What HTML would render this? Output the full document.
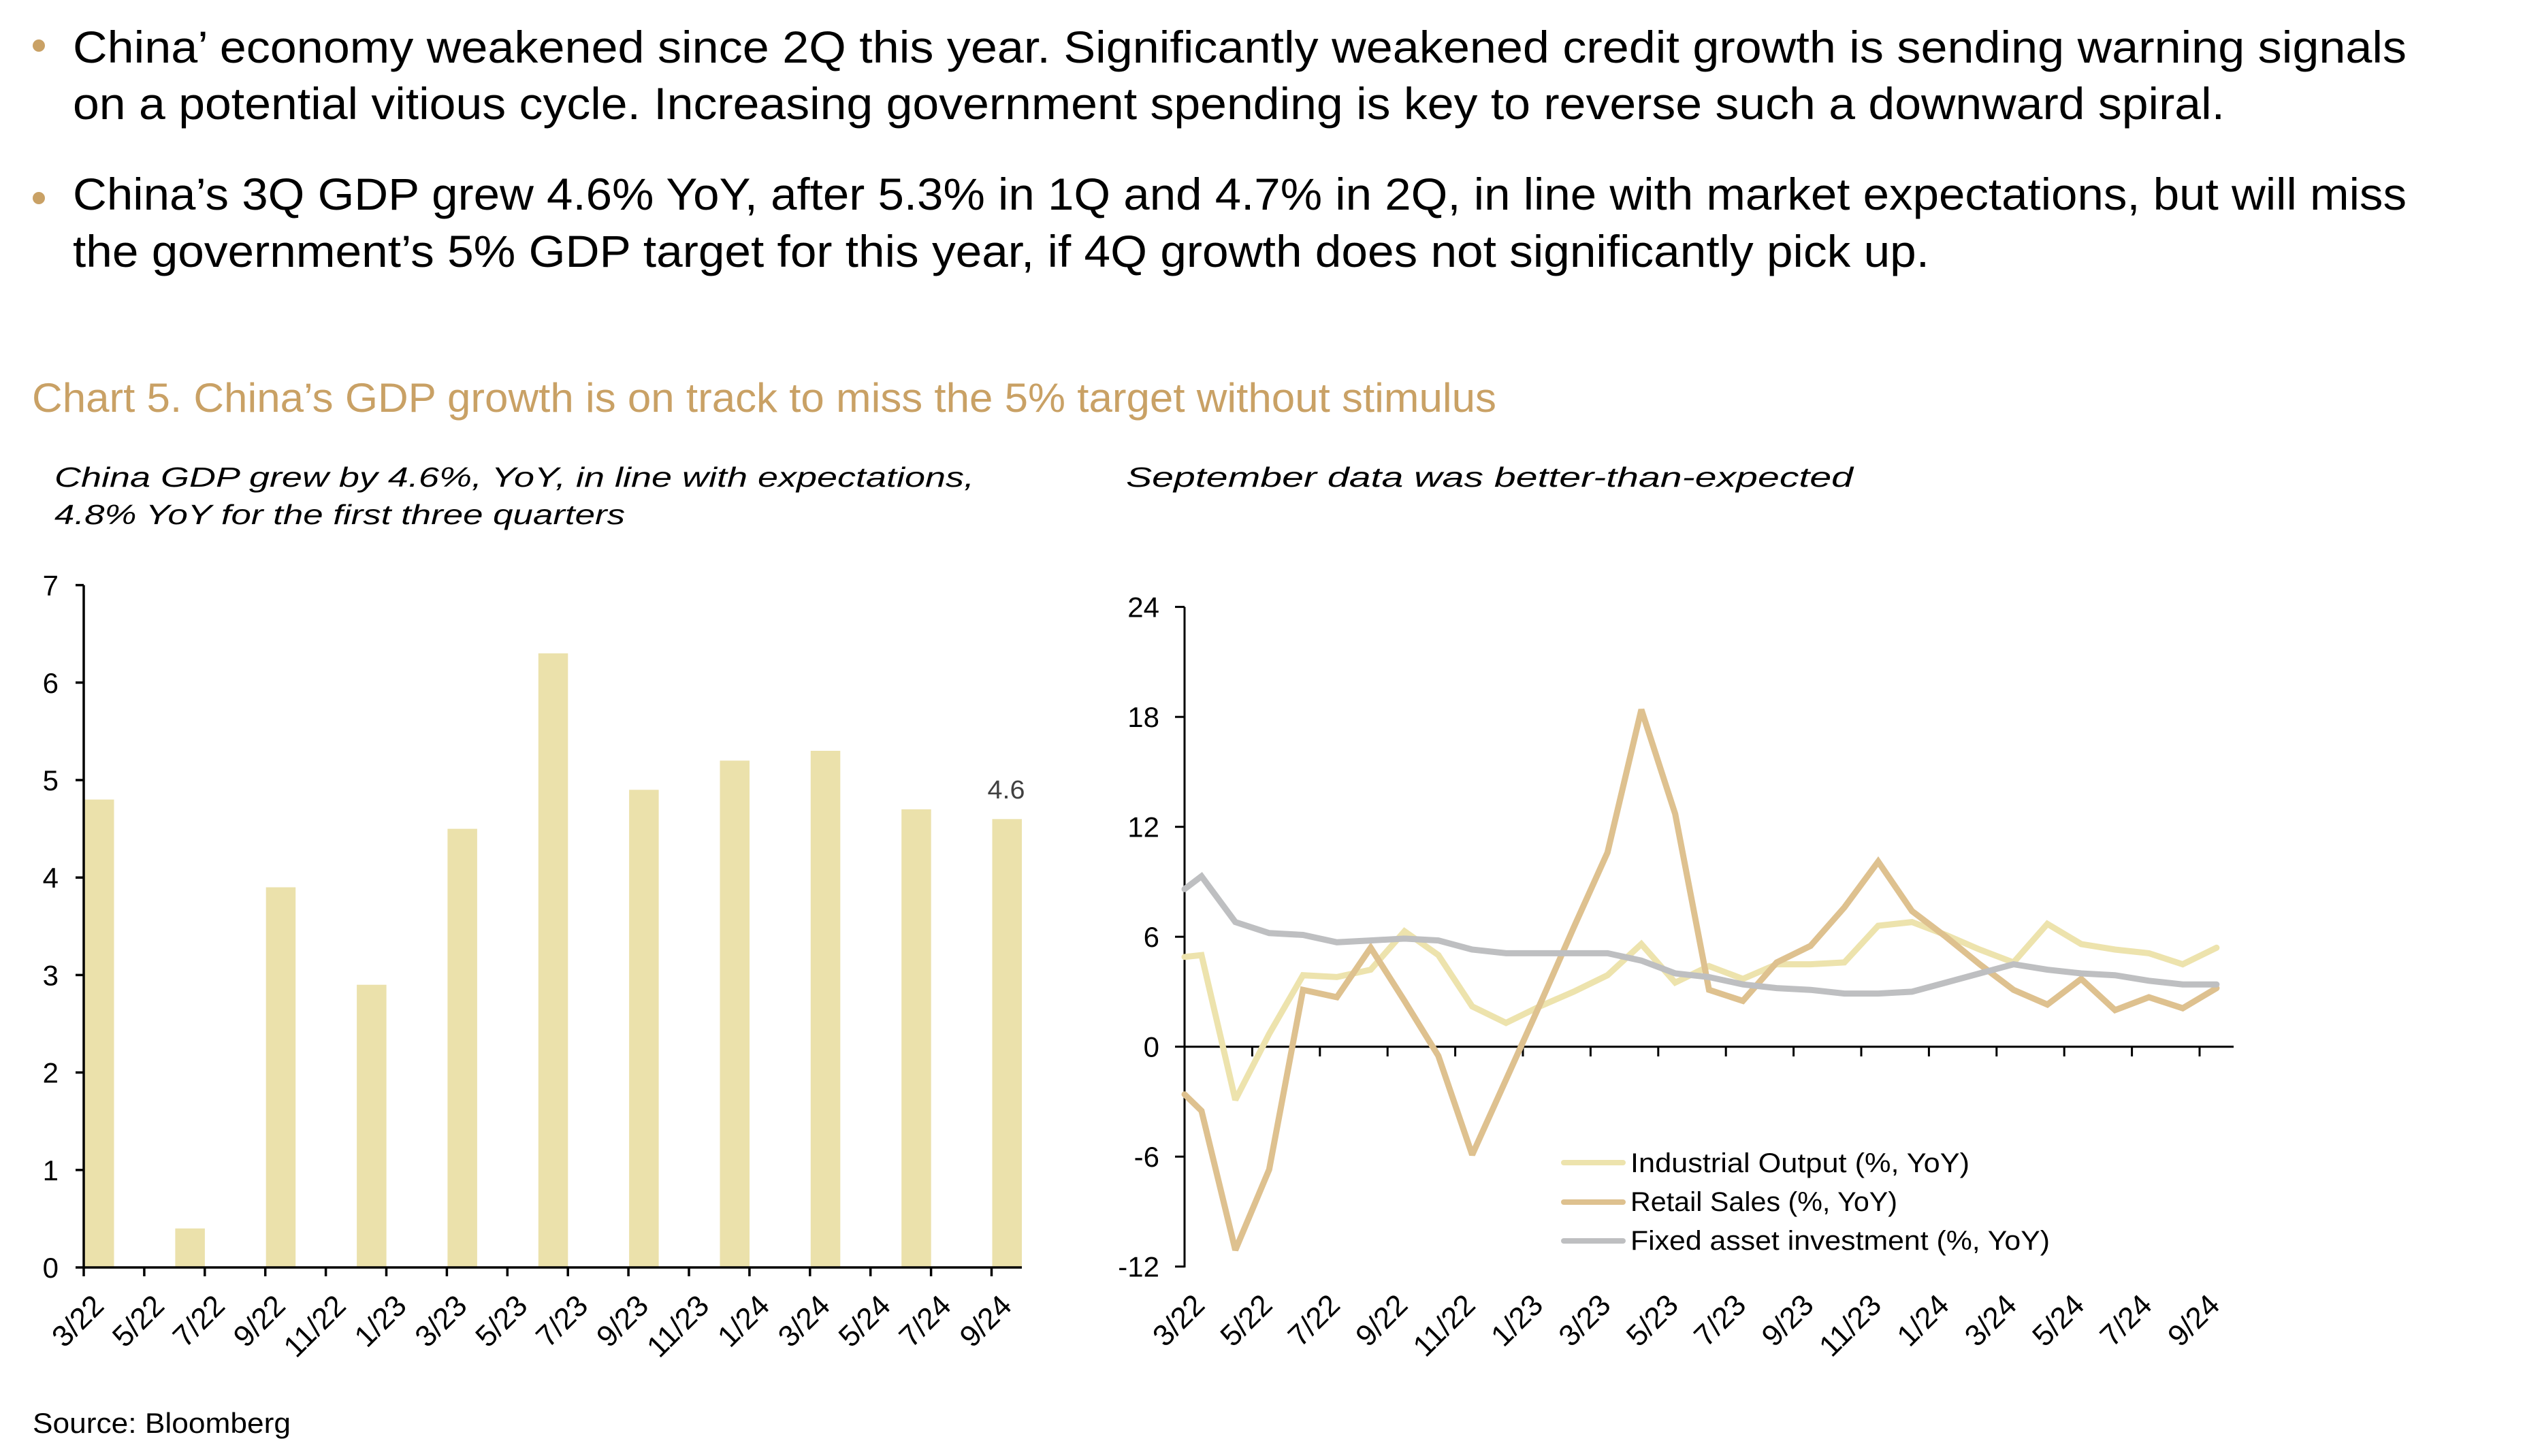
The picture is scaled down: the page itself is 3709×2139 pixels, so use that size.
<!DOCTYPE html>
<html>
<head>
<meta charset="utf-8">
<style>
  html,body{margin:0;padding:0;background:#fff;}
  svg{display:block;}
  text{font-family:"Liberation Sans","DejaVu Sans",sans-serif;}
</style>
</head>
<body>
<svg width="3709" height="2139" viewBox="0 0 3709 2139" xmlns="http://www.w3.org/2000/svg">
  <rect x="0" y="0" width="3709" height="2139" fill="#ffffff"/>

  <!-- Bullets -->
  <circle cx="57" cy="67" r="9" fill="#C9A165"/>
  <circle cx="57" cy="291" r="9" fill="#C9A165"/>
  <g font-size="66" fill="#000">
    <text x="107" y="92" textLength="3428" lengthAdjust="spacingAndGlyphs">China’ economy weakened since 2Q this year. Significantly weakened credit growth is sending warning signals</text>
    <text x="107" y="175" textLength="3161" lengthAdjust="spacingAndGlyphs">on a potential vitious cycle. Increasing government spending is key to reverse such a downward spiral.</text>
    <text x="107" y="308" textLength="3428" lengthAdjust="spacingAndGlyphs">China’s 3Q GDP grew 4.6% YoY, after 5.3% in 1Q and 4.7% in 2Q, in line with market expectations, but will miss</text>
    <text x="107" y="392" textLength="2727" lengthAdjust="spacingAndGlyphs">the government’s 5% GDP target for this year, if 4Q growth does not significantly pick up.</text>
  </g>

  <!-- Chart title -->
  <text x="47" y="605" font-size="60" fill="#C9A165" textLength="2151" lengthAdjust="spacingAndGlyphs">Chart 5. China’s GDP growth is on track to miss the 5% target without stimulus</text>

  <!-- Subtitles -->
  <g font-size="41" font-style="italic" fill="#000">
    <text x="80" y="715" textLength="1351" lengthAdjust="spacingAndGlyphs">China GDP grew by 4.6%, YoY, in line with expectations,</text>
    <text x="80" y="770" textLength="838" lengthAdjust="spacingAndGlyphs">4.8% YoY for the first three quarters</text>
    <text x="1654" y="715" textLength="1068" lengthAdjust="spacingAndGlyphs">September data was better-than-expected</text>
  </g>

  <!-- ================= LEFT BAR CHART ================= -->
  <g fill="#EBE1AB">
    <rect x="124" y="1174.6" width="43.5" height="687.4"/>
    <rect x="257.4" y="1804.7" width="43.5" height="57.3"/>
    <rect x="390.7" y="1303.5" width="43.5" height="558.5"/>
    <rect x="524.1" y="1446.7" width="43.5" height="415.3"/>
    <rect x="657.4" y="1217.6" width="43.5" height="644.4"/>
    <rect x="790.8" y="959.8" width="43.5" height="902.2"/>
    <rect x="924.1" y="1160.3" width="43.5" height="701.7"/>
    <rect x="1057.5" y="1117.4" width="43.5" height="744.6"/>
    <rect x="1190.8" y="1103.0" width="43.5" height="759.0"/>
    <rect x="1324.2" y="1189.0" width="43.5" height="673.0"/>
    <rect x="1457.5" y="1203.3" width="43.5" height="658.7"/>
  </g>
  <text x="1478" y="1173" font-size="38" fill="#404040" text-anchor="middle" textLength="55" lengthAdjust="spacingAndGlyphs">4.6</text>

  <g stroke="#000" stroke-width="3.5" fill="none">
    <line x1="123" y1="859.6" x2="123" y2="1863.7"/>
    <line x1="111" y1="1862" x2="1501" y2="1862"/>
    <line x1="111" y1="1718.8" x2="123" y2="1718.8"/>
    <line x1="111" y1="1575.6" x2="123" y2="1575.6"/>
    <line x1="111" y1="1432.4" x2="123" y2="1432.4"/>
    <line x1="111" y1="1289.2" x2="123" y2="1289.2"/>
    <line x1="111" y1="1146" x2="123" y2="1146"/>
    <line x1="111" y1="1002.8" x2="123" y2="1002.8"/>
    <line x1="111" y1="859.6" x2="123" y2="859.6"/>
    <line x1="123" y1="1862" x2="123" y2="1875"/>
    <line x1="211.9" y1="1862" x2="211.9" y2="1875"/>
    <line x1="300.8" y1="1862" x2="300.8" y2="1875"/>
    <line x1="389.7" y1="1862" x2="389.7" y2="1875"/>
    <line x1="478.6" y1="1862" x2="478.6" y2="1875"/>
    <line x1="567.5" y1="1862" x2="567.5" y2="1875"/>
    <line x1="656.4" y1="1862" x2="656.4" y2="1875"/>
    <line x1="745.3" y1="1862" x2="745.3" y2="1875"/>
    <line x1="834.2" y1="1862" x2="834.2" y2="1875"/>
    <line x1="923.1" y1="1862" x2="923.1" y2="1875"/>
    <line x1="1012" y1="1862" x2="1012" y2="1875"/>
    <line x1="1100.9" y1="1862" x2="1100.9" y2="1875"/>
    <line x1="1189.8" y1="1862" x2="1189.8" y2="1875"/>
    <line x1="1278.7" y1="1862" x2="1278.7" y2="1875"/>
    <line x1="1367.6" y1="1862" x2="1367.6" y2="1875"/>
    <line x1="1456.5" y1="1862" x2="1456.5" y2="1875"/>
  </g>

  <g font-size="42" fill="#000" text-anchor="end">
    <text x="86" y="1877">0</text>
    <text x="86" y="1733.8">1</text>
    <text x="86" y="1590.6">2</text>
    <text x="86" y="1447.4">3</text>
    <text x="86" y="1304.2">4</text>
    <text x="86" y="1161">5</text>
    <text x="86" y="1017.8">6</text>
    <text x="86" y="874.6">7</text>
  </g>

  <g font-size="44" fill="#000" text-anchor="end">
    <text transform="translate(155,1921) rotate(-45)">3/22</text>
    <text transform="translate(243.9,1921) rotate(-45)">5/22</text>
    <text transform="translate(332.8,1921) rotate(-45)">7/22</text>
    <text transform="translate(421.7,1921) rotate(-45)">9/22</text>
    <text transform="translate(510.6,1921) rotate(-45)">11/22</text>
    <text transform="translate(599.5,1921) rotate(-45)">1/23</text>
    <text transform="translate(688.4,1921) rotate(-45)">3/23</text>
    <text transform="translate(777.3,1921) rotate(-45)">5/23</text>
    <text transform="translate(866.2,1921) rotate(-45)">7/23</text>
    <text transform="translate(955.1,1921) rotate(-45)">9/23</text>
    <text transform="translate(1044,1921) rotate(-45)">11/23</text>
    <text transform="translate(1132.9,1921) rotate(-45)">1/24</text>
    <text transform="translate(1221.8,1921) rotate(-45)">3/24</text>
    <text transform="translate(1310.7,1921) rotate(-45)">5/24</text>
    <text transform="translate(1399.6,1921) rotate(-45)">7/24</text>
    <text transform="translate(1488.5,1921) rotate(-45)">9/24</text>
  </g>

  <!-- ================= RIGHT LINE CHART ================= -->
  <g stroke="#000" stroke-width="3" fill="none">
    <line x1="1740" y1="891.6" x2="1740" y2="1862"/>
    <line x1="1726" y1="891.6" x2="1740" y2="891.6"/>
    <line x1="1726" y1="1053.2" x2="1740" y2="1053.2"/>
    <line x1="1726" y1="1214.7" x2="1740" y2="1214.7"/>
    <line x1="1726" y1="1376.2" x2="1740" y2="1376.2"/>
    <line x1="1726" y1="1537.7" x2="1740" y2="1537.7"/>
    <line x1="1726" y1="1699.2" x2="1740" y2="1699.2"/>
    <line x1="1726" y1="1860.7" x2="1740" y2="1860.7"/>
    <line x1="1740" y1="1537.7" x2="3281" y2="1537.7"/>
    <line x1="1839.4" y1="1537.7" x2="1839.4" y2="1552"/>
    <line x1="1938.8" y1="1537.7" x2="1938.8" y2="1552"/>
    <line x1="2038.2" y1="1537.7" x2="2038.2" y2="1552"/>
    <line x1="2137.6" y1="1537.7" x2="2137.6" y2="1552"/>
    <line x1="2237" y1="1537.7" x2="2237" y2="1552"/>
    <line x1="2336.4" y1="1537.7" x2="2336.4" y2="1552"/>
    <line x1="2435.8" y1="1537.7" x2="2435.8" y2="1552"/>
    <line x1="2535.2" y1="1537.7" x2="2535.2" y2="1552"/>
    <line x1="2634.6" y1="1537.7" x2="2634.6" y2="1552"/>
    <line x1="2734" y1="1537.7" x2="2734" y2="1552"/>
    <line x1="2833.4" y1="1537.7" x2="2833.4" y2="1552"/>
    <line x1="2932.8" y1="1537.7" x2="2932.8" y2="1552"/>
    <line x1="3032.2" y1="1537.7" x2="3032.2" y2="1552"/>
    <line x1="3131.6" y1="1537.7" x2="3131.6" y2="1552"/>
    <line x1="3231" y1="1537.7" x2="3231" y2="1552"/>
  </g>

  <g font-size="42" fill="#000" text-anchor="end">
    <text x="1703" y="906.6">24</text>
    <text x="1703" y="1068.2">18</text>
    <text x="1703" y="1229.7">12</text>
    <text x="1703" y="1391.2">6</text>
    <text x="1703" y="1552.7">0</text>
    <text x="1703" y="1714.2">-6</text>
    <text x="1703" y="1875.7">-12</text>
  </g>

  <g font-size="44" fill="#000" text-anchor="end">
    <text transform="translate(1772,1920) rotate(-45)">3/22</text>
    <text transform="translate(1871.4,1920) rotate(-45)">5/22</text>
    <text transform="translate(1970.8,1920) rotate(-45)">7/22</text>
    <text transform="translate(2070.2,1920) rotate(-45)">9/22</text>
    <text transform="translate(2169.6,1920) rotate(-45)">11/22</text>
    <text transform="translate(2269,1920) rotate(-45)">1/23</text>
    <text transform="translate(2368.4,1920) rotate(-45)">3/23</text>
    <text transform="translate(2467.8,1920) rotate(-45)">5/23</text>
    <text transform="translate(2567.2,1920) rotate(-45)">7/23</text>
    <text transform="translate(2666.6,1920) rotate(-45)">9/23</text>
    <text transform="translate(2766,1920) rotate(-45)">11/23</text>
    <text transform="translate(2865.4,1920) rotate(-45)">1/24</text>
    <text transform="translate(2964.8,1920) rotate(-45)">3/24</text>
    <text transform="translate(3064.2,1920) rotate(-45)">5/24</text>
    <text transform="translate(3163.6,1920) rotate(-45)">7/24</text>
    <text transform="translate(3263,1920) rotate(-45)">9/24</text>
  </g>

  <!-- Series -->
  <g fill="none" stroke-width="9" stroke-linejoin="miter" stroke-miterlimit="2" stroke-linecap="round">
    <!-- Industrial Output -->
    <polyline stroke="#EDE3AD" points="1740,1405.8 1764.9,1403.1 1814.6,1615.8 1864.3,1518.9 1914.0,1432.7 1963.7,1435.4 2013.4,1424.6 2063.1,1368.1 2112.8,1403.1 2162.5,1478.5 2212.2,1502.7 2261.9,1478.5 2311.6,1456.9 2361.3,1432.7 2411.0,1386.9 2460.7,1443.5 2510.4,1419.3 2560.1,1438.1 2609.8,1416.6 2659.5,1416.6 2709.2,1413.9 2758.9,1360.0 2808.6,1354.6 2858.3,1373.5 2908.0,1395.0 2957.7,1413.9 3007.4,1357.3 3057.1,1386.9 3106.8,1395.0 3156.5,1400.4 3206.2,1416.6 3255.9,1392.3"/>
    <!-- Retail Sales -->
    <polyline stroke="#DEC18F" points="1740,1607.7 1764.9,1631.9 1814.6,1836.5 1864.3,1718.1 1914.0,1454.2 1963.7,1465.0 2013.4,1392.3 2063.1,1470.4 2112.8,1551.2 2162.5,1696.5 2212.2,1586.2 2261.9,1475.8 2311.6,1362.7 2361.3,1252.3 2411.0,1042.4 2460.7,1195.8 2510.4,1454.2 2560.1,1470.4 2609.8,1413.9 2659.5,1389.6 2709.2,1333.1 2758.9,1265.8 2808.6,1338.5 2858.3,1376.2 2908.0,1416.6 2957.7,1454.2 3007.4,1475.8 3057.1,1438.1 3106.8,1483.9 3156.5,1465.0 3206.2,1481.2 3255.9,1451.6"/>
    <!-- Fixed asset investment -->
    <polyline stroke="#BEBFC1" points="1740,1306.2 1764.9,1287.3 1814.6,1354.6 1864.3,1370.8 1914.0,1373.5 1963.7,1384.3 2013.4,1381.6 2063.1,1378.9 2112.8,1381.6 2162.5,1395.0 2212.2,1400.4 2261.9,1400.4 2311.6,1400.4 2361.3,1400.4 2411.0,1411.2 2460.7,1430.0 2510.4,1435.4 2560.1,1446.2 2609.8,1451.6 2659.5,1454.2 2709.2,1459.6 2758.9,1459.6 2808.6,1456.9 2858.3,1443.5 2908.0,1430.0 2957.7,1416.6 3007.4,1424.6 3057.1,1430.0 3106.8,1432.7 3156.5,1440.8 3206.2,1446.2 3255.9,1446.2"/>
  </g>

  <!-- Legend -->
  <g stroke-width="8" stroke-linecap="round">
    <line x1="2297" y1="1708" x2="2384" y2="1708" stroke="#EDE3AD"/>
    <line x1="2297" y1="1766" x2="2384" y2="1766" stroke="#DEC18F"/>
    <line x1="2297" y1="1823" x2="2384" y2="1823" stroke="#BEBFC1"/>
  </g>
  <g font-size="40" fill="#000">
    <text x="2395" y="1722" textLength="498" lengthAdjust="spacingAndGlyphs">Industrial Output (%, YoY)</text>
    <text x="2395" y="1779" textLength="392" lengthAdjust="spacingAndGlyphs">Retail Sales (%, YoY)</text>
    <text x="2395" y="1836" textLength="616" lengthAdjust="spacingAndGlyphs">Fixed asset investment (%, YoY)</text>
  </g>

  <!-- Source -->
  <text x="48" y="2105" font-size="42" fill="#000" textLength="379" lengthAdjust="spacingAndGlyphs">Source: Bloomberg</text>
</svg>
</body>
</html>
